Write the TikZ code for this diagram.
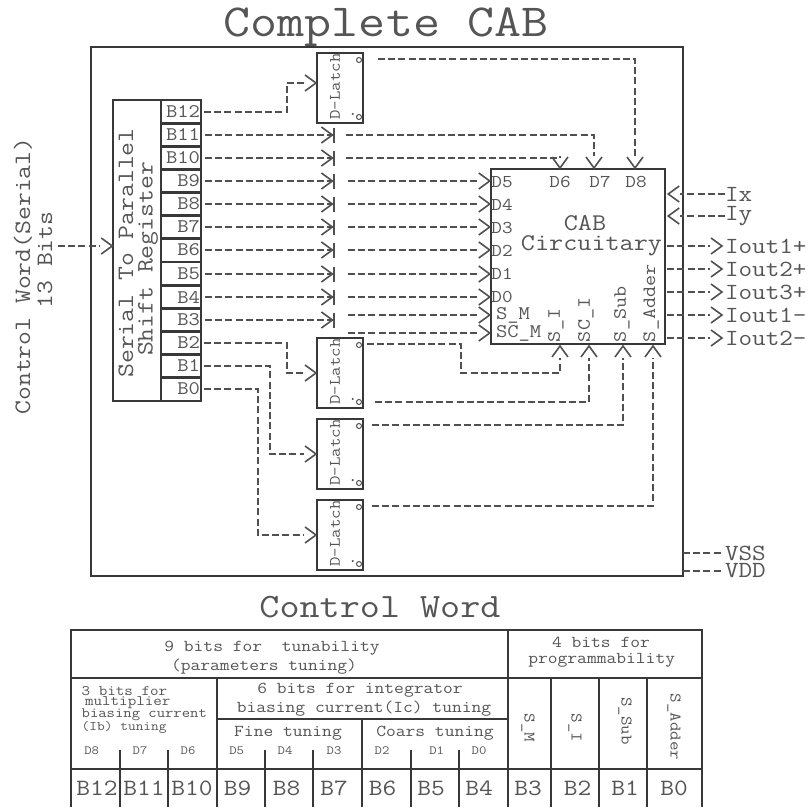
\documentclass[tikz,border=0pt]{standalone}
\usepackage{fontspec}
\usepackage{xcolor}
\usetikzlibrary{arrows.meta,positioning}
\setmonofont[FakeStretch=1.143,Scale=0.875]{Latin Modern Mono}
\definecolor{inkline}{HTML}{383838}
\definecolor{inkwire}{HTML}{505050}
\definecolor{inktext}{HTML}{555555}
\newcommand{\monosize}[1]{\fontsize{#1}{#1}\selectfont\ttfamily}
\pgfdeclarearrow{
  name=OpenVee,
  defaults={length=0pt},
  setup code={
    \pgfarrowssettipend{0pt}
    \pgfarrowssetlineend{-13pt}
    \pgfarrowssetvisualbackend{-13pt}
    \pgfarrowshullpoint{0pt}{0pt}
    \pgfarrowshullpoint{-12pt}{8pt}
    \pgfarrowshullpoint{-12pt}{-8pt}
    \pgfarrowssavethe\pgfarrowlength
  },
  drawing code={
    \pgfsetdash{}{0pt}
    \pgfsetlinewidth{1.6pt}
    \pgfsetmiterjoin
    \pgfpathmoveto{\pgfqpoint{-12pt}{8pt}}
    \pgfpathlineto{\pgfqpoint{-1pt}{0pt}}
    \pgfpathlineto{\pgfqpoint{-12pt}{-8pt}}
    \pgfusepathqstroke
  }
}
\begin{document}
\begin{tikzpicture}[
  x=1pt, y=-1pt,
  every node/.style={inner sep=0pt, outer sep=0pt, text=inktext},
  boxline/.style={draw=inkline, line width=1.9pt},
  cell/.style={boxline, minimum width=40pt, minimum height=23.15pt, text width=38pt, align=right, font=\monosize{22}},
  latch/.style={boxline, minimum width=46pt, minimum height=70pt},
  pin/.style={draw=inkwire, line width=1pt, circle, minimum size=5pt},
  wire/.style={draw=inkwire, line width=1.9pt, dash pattern=on 7pt off 3.2pt},
  arr/.style={wire, -{OpenVee}},
  cut/.style={wire, -{OpenVee[]Bar[width=15pt,line width=1.6pt]}},
  small/.style={font=\monosize{20.6}},
  side/.style={font=\monosize{26.4}, anchor=west},
  tabletext/.style={font=\monosize{19}},
  tline/.style={draw=inkline, line width=1.5pt}
]
\useasboundingbox (0,0) rectangle (809,808);
\node[font=\monosize{52.5}] (title) at (386,27) {Complete CAB};
\node[boxline, minimum width=592pt, minimum height=529pt] (outer) at (387,311.5) {};

\node[font=\monosize{26.9}, rotate=90] (ctrl) at (23,276) {Control Word(Serial)};
\node[font=\monosize{26.9}, rotate=90] (ctrlbits) at (45,260) {13 Bits};

\node[boxline, minimum width=47.5pt, minimum height=301pt] (reg) at (137,250.5) {};
\node[font=\monosize{26.9}, rotate=90] (regone) at (126,253) {Serial To Parallel};
\node[font=\monosize{26.9}, rotate=90] (regtwo) at (148,259) {Shift Register};
\foreach \i [count=\k from 0] in {12,...,0}
  \node[cell] (b\i) at (181,{round(111.6+23.15*\k)}) {B\i};

\foreach \n/\y in {dla/88, dlb/373, dlc/454, dld/535} {
  \node[latch] (\n) at (340,\y) {};
  \node[font=\monosize{18.3}, rotate=90] (\n txt) at (335,\y-1.5) {D-Latch};
  \node[pin] (\n q) at (359,\y-28) {};
  \node[pin] (\n qb) at (359,\y+29) {};
  \fill[inkwire] (352.7,\y+26) circle (1.2pt);
}

\node[boxline, minimum width=174.5pt, minimum height=175pt] (cab) at (578,256.5) {};
\node[font=\monosize{27.4}] (cabone) at (585,223) {CAB};
\node[font=\monosize{27.4}] (cabtwo) at (591.5,246) {Circuitary};
\foreach \n/\t/\y in {d5/D5/182, d4/D4/205, d3/D3/228, d2/D2/251, d1/D1/274, d0/D0/297}
  \node[small] (\n) at (502,\y) {\t};
\foreach \n/\t/\x in {d6/D6/560, d7/D7/600, d8/D8/636}
  \node[small] (\n) at (\x,182) {\t};
\node[font=\monosize{22}, anchor=west] (sm) at (496,315) {S\_M};
\node[font=\monosize{22}, anchor=west] (scm) at (496,333) {SC\_M};
\node[font=\monosize{21.5}, rotate=90, anchor=west] (si) at (556,342) {S\_I};
\node[font=\monosize{21.5}, rotate=90, anchor=west] (sci) at (586,342) {SC\_I};
\node[font=\monosize{21.5}, rotate=90, anchor=west] (ssub) at (622,342) {S\_Sub};
\node[font=\monosize{21.5}, rotate=90, anchor=west] (sadd) at (651,342) {S\_Adder};

\node[side] (ix) at (725,194) {Ix};
\node[side] (iy) at (725,216) {Iy};
\node[side] (ioa) at (725,246) {Iout1+};
\node[side] (iob) at (725,269) {Iout2+};
\node[side] (ioc) at (725,292) {Iout3+};
\node[side] (iod) at (725,315) {Iout1-};
\node[side] (ioe) at (725,338) {Iout2-};
\node[side] (vss) at (725,553) {VSS};
\node[side] (vdd) at (725,571) {VDD};

\coordinate (ctrlin) at (58,246);
\coordinate (dlaout) at (378,59);
\coordinate (dlbout) at (367,344);
\coordinate (dlbbar) at (375,402);
\coordinate (dlcout) at (372,425);
\coordinate (dldout) at (372,506);
\coordinate (tipd6) at (560,169);
\coordinate (tipd7) at (594,169);
\coordinate (tipd8) at (635,169);
\coordinate (tipsi) at (560,345);
\coordinate (tipsci) at (589,345);
\coordinate (tipsub) at (623,345);
\coordinate (tipadd) at (653,345);
\coordinate (smout) at (348,315);
\coordinate (scmout) at (348,333);

\draw[arr] (ctrlin) -- (reg.west |- ctrlin);

\draw[arr, shorten <=3pt] (b12.east) -- ++(86,0) |- ([yshift=5pt]dla.west);
\draw[arr, shorten <=3pt] (b2.east) -- ++(86,0) |- (dlb.west);
\draw[arr, shorten <=3pt] (b1.east) -- ++(69,0) |- (dlc.west);
\draw[arr, shorten <=3pt] (b0.east) -- ++(57,0) |- (dld.west);

\foreach \i in {11,...,3} {
  \coordinate (cut\i) at (335,0 |- b\i.east);
  \draw[cut, shorten <=4pt] (b\i.east) -- (cut\i);
}
\foreach \i/\n in {9/d5, 8/d4, 7/d3, 6/d2, 5/d1, 4/d0}
  \draw[arr] ([xshift=13pt]cut\i) -- (cab.west |- cut\i);
\draw[arr] ([xshift=11pt]cut11) -| (tipd7);
\draw[arr] ([xshift=11pt]cut10) -| (tipd6);
\draw[arr] (dlaout) -| (tipd8);
\draw[arr] (smout) -- (cab.west |- smout);
\draw[arr] (scmout) -- (cab.west |- scmout);

\draw[arr] (dlbout) -- ++(94,0) -- ++(0,29) -| (tipsi);
\draw[arr] (dlbbar) -| (tipsci);
\draw[arr] (dlcout) -| (tipsub);
\draw[arr] (dldout) -| (tipadd);

\draw[arr] (ix.west) -- ([xshift=2pt]cab.east |- ix.west);
\draw[arr] (iy.west) -- ([xshift=2pt]cab.east |- iy.west);
\foreach \n in {ioa,iob,ioc,iod,ioe}
  \draw[arr, shorten <=2pt, shorten >=2pt] (cab.east |- \n.west) -- (\n.west);
\draw[wire] (outer.east |- vss.west) -- ++(40,0);
\draw[wire] (outer.east |- vdd.west) -- ++(40,0);

\node[font=\monosize{39}] (wordtitle) at (380,607) {Control Word};

\draw[tline] (71,807) -- (71,630) -- (702,630) -- (702,807);
\draw[tline] (71,678) -- (702,678);
\draw[tline] (71,769) -- (702,769);
\draw[tline] (217,719) -- (508,719);
\draw[tline] (508,630) -- (508,807);
\foreach \x in {217,551,599,647}
  \draw[tline] (\x,678) -- (\x,807);
\draw[tline] (362,719) -- (362,807);
\foreach \x in {120,168,265,313,411,459}
  \draw[tline] (\x,750) -- (\x,807);

\node[tabletext] (tuna) at (272,648) {9 bits for~~tunability};
\node[tabletext] (tunb) at (264,666.7) {(parameters tuning)};
\node[tabletext] (proga) at (601,642.7) {4 bits for};
\node[tabletext] (progb) at (601.7,660.7) {programmability};
\node[font=\monosize{16.6}, anchor=west] (iba) at (81.7,690.7) {3 bits for};
\node[font=\monosize{16.6}, anchor=west] (ibb) at (85,702.5) {multiplier};
\node[font=\monosize{16.2}, anchor=west] (ibc) at (81.7,715) {biasing current};
\node[font=\monosize{15}, anchor=west] (ibd) at (81.7,727) {(Ib) tuning};
\node[tabletext] (ica) at (360,690.7) {6 bits for integrator};
\node[tabletext] (icb) at (364,709) {biasing current(Ic) tuning};
\node[tabletext] (fine) at (288,733) {Fine tuning};
\node[tabletext] (coars) at (435,733) {Coars tuning};
\foreach \t/\x in {D8/91.7, D7/140, D6/188, D5/236.7, D4/285, D3/334, D2/382, D1/436.7, D0/479}
  \node[font=\monosize{14.3}] (col\t) at (\x,751) {\t};
\foreach \t/\x/\y in {S\_M/528/728, S\_I/575/728, S\_Sub/625/721, S\_Adder/674/727}
  \node[font=\monosize{18.5}, rotate=-90] at (\x,\y) {\t};
\foreach \t/\x in {B12/97, B11/144, B10/192, B9/237.7, B8/286.7, B7/334, B6/382.7, B5/431, B4/479, B3/528, B2/577.7, B1/625, B0/674}
  \node[font=\monosize{26.7}] (row\t) at (\x,788) {\t};
\end{tikzpicture}
\end{document}
